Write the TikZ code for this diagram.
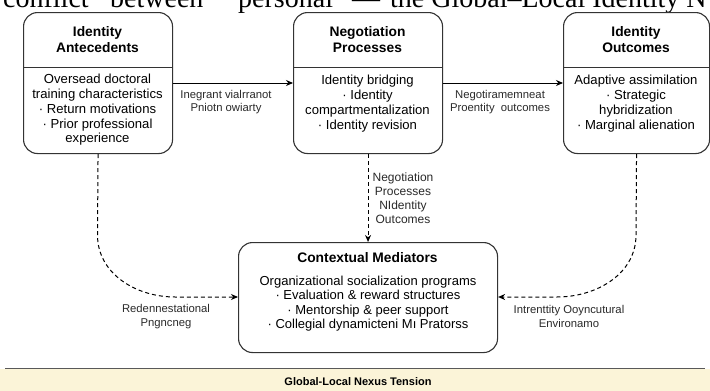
\documentclass[tikz,border=0pt]{standalone}
\usepackage{fontspec}
\setmainfont{Liberation Sans}
\newfontfamily\serifx{Liberation Serif}
\usetikzlibrary{arrows.meta}
\definecolor{bordc}{HTML}{333333}
\definecolor{bandc}{HTML}{FBF4D8}
\definecolor{lblc}{HTML}{2A2A2A}
\begin{document}
\begin{tikzpicture}[x=1pt,y=-1pt,
  box/.style={draw=bordc, line width=1.1pt, rounded corners=14pt, fill=white, anchor=north west, inner sep=0pt},
  hd/.style={font=\bfseries\fontsize{13.8}{16}\selectfont, align=center},
  bd/.style={font=\fontsize{13.1}{14.8}\selectfont, align=center},
  lbl/.style={font=\fontsize{11.3}{13.8}\selectfont, align=center, text=lblc},
  arr/.style={-{Stealth[length=7pt,width=6pt]}, line width=1pt, draw=black},
  dsh/.style={arr, dash pattern=on 4pt off 3pt},
  top/.style={anchor=base west, inner sep=0pt, font=\serifx\fontsize{28}{30}\selectfont}]
\useasboundingbox (0,0) rectangle (710,391);
\fill[white] (0,0) rectangle (710,391);

% clipped text line at the top
\node[top] (t1) at (3,7) {conflict};
\node[top] (t2) at (110,7) {between};
\node[top] (t3) at (238,7) {personal};
\node[top] (t4) at (352,7) {—};
\node[top] (t5) at (390,7) {the Global–Local Identity N};

% boxes
\node[box, minimum width=149pt, minimum height=141pt] (ant) at (23,12) {};
\node[box, minimum width=149pt, minimum height=141pt] (neg) at (293,12) {};
\node[box, minimum width=146pt, minimum height=141pt] (out) at (563,12) {};
\node[box, minimum width=259pt, minimum height=110pt] (med) at (238,242) {};

\draw[bordc, line width=1pt] (ant.west |- 0,67) -- (ant.east |- 0,67);
\draw[bordc, line width=1pt] (neg.west |- 0,67) -- (neg.east |- 0,67);
\draw[bordc, line width=1pt] (out.west |- 0,67) -- (out.east |- 0,67);

% headers
\node[hd] (antH) at (97.5,40) {Identity\\Antecedents};
\node[hd] (negH) at (367.5,40) {Negotiation\\Processes};
\node[hd] (outH) at (636,40) {Identity\\Outcomes};
\node[hd] (medH) at (367.5,258) {Contextual Mediators};

% bodies
\node[bd] (antB) at (97.5,110) {Oversead doctoral\\training characteristics\\· Return motivations\\· Prior professional\\experience};
\node[bd] (negB) at (367.5,103.5) {Identity bridging\\· Identity\\compartmentalization\\· Identity revision};
\node[bd] (outB) at (636,103.5) {Adaptive assimilation\\· Strategic\\hybridization\\· Marginal alienation};
\node[bd, font=\fontsize{13}{14.4}\selectfont] (medB) at (368,303.5) {Organizational socialization programs\\· Evaluation \& reward structures\\· Mentorship \& peer support\\· Collegial dynamicteni Mı Pratorss};

% solid arrows
\draw[arr] (ant.east |- 0,83) -- (neg.west |- 0,83);
\draw[arr] (neg.east |- 0,83) -- (out.west |- 0,83);
\node[lbl] (l1) at (226,102) {Inegrant vialrranot\\Pniotn owiarty};
\node[lbl] (l2) at (500,102) {Negotiramemneat\\Proentity\ \ outcomes};

% dashed arrows
\draw[dsh] (neg.south) -- (med.north);
\node[lbl, font=\fontsize{12}{14}\selectfont] (l3) at (403,198) {Negotiation\\Processes\\NIdentity\\Outcomes};

\coordinate (lc) at (97.5,235);
\coordinate (rc) at (636,235);
\draw[dsh] (ant.south) -- (lc) to[out=-90,in=180] (175,297) -- (med.west |- 0,297);
\draw[dsh] (out.south) -- (rc) to[out=-90,in=0] (557,297) -- (med.east |- 0,297);
\node[lbl] (l4) at (166,316.5) {Redennestational\\Pngncneg};
\node[lbl] (l5) at (569,316.5) {Intrenttity Ooyncutural\\Environamo};

% bottom band
\fill[bandc] (0,369) rectangle (710,391);
\draw[gray!70!black, line width=1pt] (5,368.5) -- (705,368.5);
\node[font=\bfseries\fontsize{11}{13}\selectfont] (band) at (358,382) {Global-Local Nexus Tension};
\end{tikzpicture}
\end{document}
